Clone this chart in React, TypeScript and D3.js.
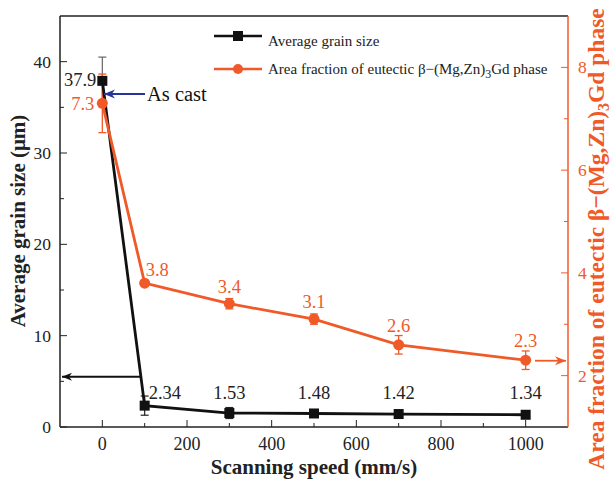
import React from "react";
import * as d3 from "d3";

const speeds = [0, 100, 300, 500, 700, 1000];
const grainSize = [37.9, 2.34, 1.53, 1.48, 1.42, 1.34];
const grainErr = [2.6, 1.05, 0.6, 0.2, 0.2, 0.2];
const grainLabels = ["37.9", "2.34", "1.53", "1.48", "1.42", "1.34"];
const areaFrac = [7.3, 3.8, 3.4, 3.1, 2.6, 2.3];
const areaErr = [0.57, 0.05, 0.1, 0.1, 0.18, 0.18];
const areaLabels = ["7.3", "3.8", "3.4", "3.1", "2.6", "2.3"];
const xTicks = [0, 200, 400, 600, 800, 1000];
const xMinor = [100, 300, 500, 700, 900];
const yLeftTicks = [0, 10, 20, 30, 40];
const yLeftMinor = [5, 15, 25, 35];
const yRightTicks = [2, 4, 6, 8];
const yRightMinor = [3, 5, 7];

const W = 611, H = 479;
const L = 60, R = 568, T = 16, B = 427;
const ORANGE = "#f05a28";
const BLUE = "#27359a";
const FONT = "'Liberation Serif', 'Times New Roman', serif";

export default function App() {
  const x = d3.scaleLinear().domain([-100, 1100]).range([L, R]);
  const yL = d3.scaleLinear().domain([0, 45]).range([B, T]);
  const yR = d3.scaleLinear().domain([1, 9]).range([B, T]);

  const lineL = d3.line<number>().x((_, i) => x(speeds[i])).y((d) => yL(d));
  const lineR = d3.line<number>().x((_, i) => x(speeds[i])).y((d) => yR(d));

  return (
    <svg width={W} height={H} style={{ position: "absolute", left: 0, top: 0 }} fontFamily={FONT}>
      <defs>
        <marker id="ahBlack" viewBox="0 0 10 10" refX="10" refY="5" markerWidth="11" markerHeight="10" markerUnits="userSpaceOnUse" orient="auto">
          <path d="M0,1 L10,5 L0,9 L3,5 z" fill="#111" />
        </marker>
        <marker id="ahOrange" viewBox="0 0 10 10" refX="10" refY="5" markerWidth="11" markerHeight="11" markerUnits="userSpaceOnUse" orient="auto">
          <path d="M0,1 L10,5 L0,9 L3,5 z" fill={ORANGE} />
        </marker>
        <marker id="ahBlue" viewBox="0 0 10 10" refX="10" refY="5" markerWidth="12" markerHeight="11" markerUnits="userSpaceOnUse" orient="auto">
          <path d="M0,1 L10,5 L0,9 L3,5 z" fill={BLUE} />
        </marker>
      </defs>
      <rect width={W} height={H} fill="#fff" />
      {/* frame */}
      <line x1={L} x2={R} y1={T} y2={T} stroke="#222" strokeWidth={1.5} />
      <line x1={L} x2={R} y1={B} y2={B} stroke="#222" strokeWidth={1.5} />
      <line x1={L} x2={L} y1={T} y2={B} stroke="#222" strokeWidth={1.5} />
      <line x1={R} x2={R} y1={T} y2={B} stroke={ORANGE} strokeWidth={1.5} />

      {/* x ticks */}
      {xTicks.map((t) => (
        <g key={"xt" + t}>
          <line x1={x(t)} x2={x(t)} y1={B} y2={B - 7} stroke="#222" strokeWidth={1} />
          <text x={x(t)} y={B + 23} textAnchor="middle" fontSize={18} fill="#222">{t}</text>
        </g>
      ))}
      {xMinor.map((t) => (
        <line key={"xm" + t} x1={x(t)} x2={x(t)} y1={B} y2={B - 4} stroke="#222" strokeWidth={1} />
      ))}
      {/* left ticks */}
      {yLeftTicks.map((t) => (
        <g key={"yl" + t}>
          <line x1={L} x2={L + 7} y1={yL(t)} y2={yL(t)} stroke="#222" strokeWidth={1} />
          <text x={L - 9} y={yL(t) + 6} textAnchor="end" fontSize={17.5} fill="#222">{t}</text>
        </g>
      ))}
      {yLeftMinor.map((t) => (
        <line key={"ylm" + t} x1={L} x2={L + 4} y1={yL(t)} y2={yL(t)} stroke="#222" strokeWidth={1} />
      ))}
      {/* right ticks */}
      {yRightTicks.map((t) => (
        <g key={"yr" + t}>
          <line x1={R} x2={R - 7} y1={yR(t)} y2={yR(t)} stroke={ORANGE} strokeWidth={1} />
          <text x={R + 10} y={yR(t) + 6} textAnchor="start" fontSize={17.5} fill={ORANGE}>{t}</text>
        </g>
      ))}
      {yRightMinor.map((t) => (
        <line key={"yrm" + t} x1={R} x2={R - 4} y1={yR(t)} y2={yR(t)} stroke={ORANGE} strokeWidth={1} />
      ))}

      {/* axis titles */}
      <text x={314} y={474} textAnchor="middle" fontSize={21} fontWeight="bold" fill="#222">Scanning speed (mm/s)</text>
      <text transform={`translate(25,221) rotate(-90)`} textAnchor="middle" fontSize={21} fontWeight="bold" fill="#222">Average grain size (μm)</text>
      <text transform={`translate(604,239) rotate(-90)`} textAnchor="middle" fontSize={23.5} fontWeight="bold" fill={ORANGE}>
        Area fraction of eutectic β−(Mg,Zn)<tspan fontSize={16} dy={5}>3</tspan><tspan dy={-5}>Gd phase</tspan>
      </text>

      {/* error bars */}
      {grainSize.map((v, i) => (
        <g key={"ge" + i} stroke={i === 0 ? "#666" : "#222"} strokeWidth={1.2}>
          <line x1={x(speeds[i])} x2={x(speeds[i])} y1={yL(v - grainErr[i])} y2={yL(v + grainErr[i])} />
          <line x1={x(speeds[i]) - 4} x2={x(speeds[i]) + 4} y1={yL(v - grainErr[i])} y2={yL(v - grainErr[i])} />
          <line x1={x(speeds[i]) - 4} x2={x(speeds[i]) + 4} y1={yL(v + grainErr[i])} y2={yL(v + grainErr[i])} />
        </g>
      ))}
      {areaFrac.map((v, i) => (
        <g key={"ae" + i} stroke={ORANGE} strokeWidth={1.3}>
          <line x1={x(speeds[i])} x2={x(speeds[i])} y1={yR(v - areaErr[i])} y2={yR(v + areaErr[i])} />
          <line x1={x(speeds[i]) - 4} x2={x(speeds[i]) + 4} y1={yR(v - areaErr[i])} y2={yR(v - areaErr[i])} />
          <line x1={x(speeds[i]) - 4} x2={x(speeds[i]) + 4} y1={yR(v + areaErr[i])} y2={yR(v + areaErr[i])} />
        </g>
      ))}

      {/* lines */}
      <path d={lineL(grainSize) || ""} fill="none" stroke="#111" strokeWidth={2.8} />
      <path d={lineR(areaFrac) || ""} fill="none" stroke={ORANGE} strokeWidth={2.8} />
      {grainSize.map((v, i) => (
        <rect key={"gm" + i} x={x(speeds[i]) - 5} y={yL(v) - 5} width={10} height={10} fill="#111" />
      ))}
      {areaFrac.map((v, i) => (
        <circle key={"am" + i} cx={x(speeds[i])} cy={yR(v)} r={5.5} fill={ORANGE} />
      ))}

      {/* value labels */}
      {grainLabels.map((s, i) => {
        if (i === 0) return <text key={"gl" + i} x={x(0) - 6} y={yL(grainSize[0]) + 5} textAnchor="end" fontSize={18.5} fill="#222">{s}</text>;
        if (i === 1) return <text key={"gl" + i} x={x(speeds[i]) + 4} y={399} textAnchor="start" fontSize={18.5} fill="#222">{s}</text>;
        return <text key={"gl" + i} x={x(speeds[i])} y={399} textAnchor="middle" fontSize={18.5} fill="#222">{s}</text>;
      })}
      {areaLabels.map((s, i) => {
        if (i === 0) return <text key={"al" + i} x={x(0) - 8} y={yR(areaFrac[0]) + 7} textAnchor="end" fontSize={18.5} fill={ORANGE}>{s}</text>;
        if (i === 1) return <text key={"al" + i} x={x(speeds[i]) + 1} y={yR(areaFrac[i]) - 7} textAnchor="start" fontSize={18.5} fill={ORANGE}>{s}</text>;
        return <text key={"al" + i} x={x(speeds[i])} y={Math.min(yR(areaFrac[i]) - 11, yR(areaFrac[i] + areaErr[i]) - 4)} textAnchor="middle" fontSize={18.5} fill={ORANGE}>{s}</text>;
      })}

      {/* annotation arrows */}
      <line x1={145} x2={104} y1={94} y2={94} stroke={BLUE} strokeWidth={2} markerEnd="url(#ahBlue)" />
      <text x={147} y={101} fontSize={20.5} fill="#111">As cast</text>
      <line x1={140} x2={62} y1={yL(5.5)} y2={yL(5.5)} stroke="#111" strokeWidth={1.8} markerEnd="url(#ahBlack)" />
      <line x1={535} x2={566} y1={yR(2.29)} y2={yR(2.29)} stroke={ORANGE} strokeWidth={1.8} markerEnd="url(#ahOrange)" />

      {/* legend */}
      <line x1={214} x2={262} y1={36} y2={36} stroke="#111" strokeWidth={2.5} />
      <rect x={233} y={31} width={10} height={10} fill="#111" />
      <text x={268} y={46} fontSize={15} fill="#222">Average grain size</text>
      <line x1={214} x2={262} y1={69} y2={69} stroke={ORANGE} strokeWidth={2.5} />
      <circle cx={238} cy={69} r={5} fill={ORANGE} />
      <text x={268} y={74} fontSize={15} fill="#222">
        Area fraction of eutectic β−(Mg,Zn)<tspan fontSize={12} dy={4}>3</tspan><tspan dy={-4}>Gd phase</tspan>
      </text>
    </svg>
  );
}
